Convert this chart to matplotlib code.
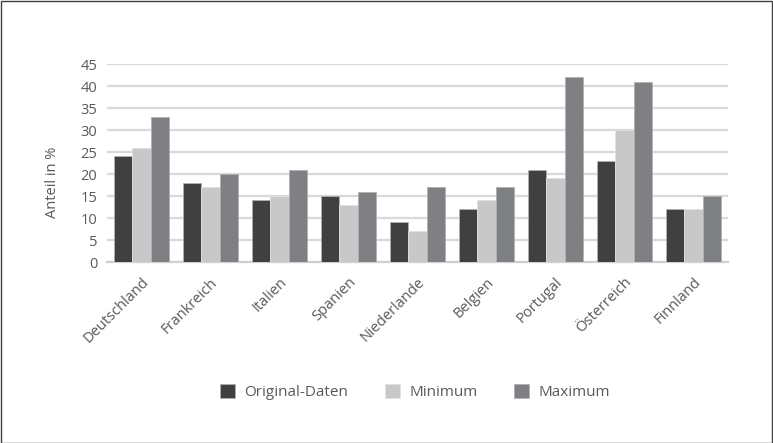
import numpy as np
import matplotlib.pyplot as plt
import matplotlib.transforms as mtransforms
from matplotlib.patches import Rectangle

# Werte
laender = ["Deutschland", "Frankreich", "Italien", "Spanien", "Niederlande",
           "Belgien", "Portugal", "Österreich", "Finnland"]
original = [24, 18, 14, 15, 9, 12, 21, 23, 12]
minimum = [26, 17, 15, 13, 7, 14, 19, 30, 12]
maximum = [33, 20, 21, 16, 17, 17, 42, 41, 15]

plt.rcParams['font.family'] = ['Open Sans', 'DejaVu Sans']
grau_text = "#595959"

W, H = 773, 443
fig = plt.figure(figsize=(W/100, H/100), dpi=100)
ax = fig.add_axes([107/W, 1-262/H, 621/W, 198/H])

x = np.arange(len(laender))
b = 0.265
ax.bar(x - b, original, b, color="#404040", edgecolor="#b0b0b0", linewidth=0.6, label="Original-Daten", zorder=3)
ax.bar(x, minimum, b, color="#c8c8c8", edgecolor="#e0e0e0", linewidth=0.6, label="Minimum", zorder=3)
ax.bar(x + b, maximum, b, color="#7f8084", edgecolor="#b0b0b0", linewidth=0.6, label="Maximum", zorder=3)

ax.set_ylim(0, 45)
ax.set_xlim(-0.5, len(laender) - 0.5)
ax.set_yticks(range(0, 46, 5))
ax.yaxis.grid(True, color="#d9d9d9", linewidth=1.6, zorder=0)
ax.set_axisbelow(True)
for s in ["top", "right", "left"]:
    ax.spines[s].set_visible(False)
ax.spines["bottom"].set_color("#d0d0d0")
ax.spines["bottom"].set_linewidth(1.6)
ax.tick_params(length=0, colors=grau_text, labelsize=10.5)
ax.tick_params(axis="y", pad=7)
ax.set_xticks(x)
ax.set_xticklabels(laender, rotation=45, ha="right", va="center", rotation_mode="anchor")
ax.tick_params(axis="x", pad=13)
versatz = mtransforms.ScaledTranslation(5/100, 0, fig.dpi_scale_trans)
for lbl in ax.get_xticklabels():
    lbl.set_transform(lbl.get_transform() + versatz)

fig.text(53/W, 1-182/H, "Anteil in %", rotation=90, ha="center", va="center",
         color=grau_text, fontsize=10.5)

fig.legend(loc="center", bbox_to_anchor=(415/W, 1-392/H), ncol=3, frameon=False,
           fontsize=11, labelcolor=grau_text, handlelength=1.0, handleheight=1.0,
           columnspacing=2.4, handletextpad=0.6)

fig.patches.append(Rectangle((0.5/W, 0.5/H), 1-1.5/W, 1-1.5/H, transform=fig.transFigure,
                             fill=False, edgecolor="#404040", linewidth=1))

fig.savefig("out.png", dpi=100)
